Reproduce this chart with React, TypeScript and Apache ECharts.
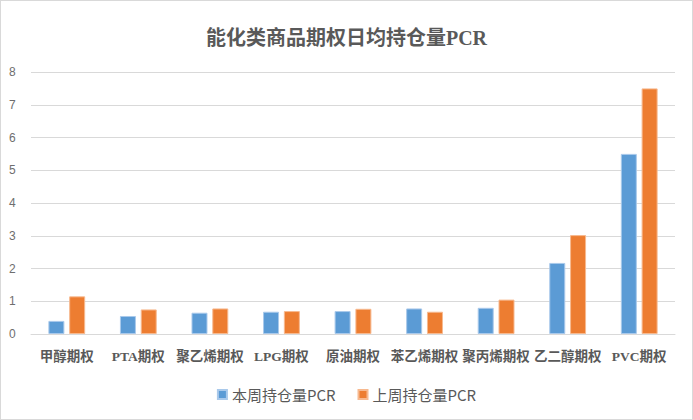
import React, { useEffect, useRef } from "react";
import * as echarts from "echarts";

const categories = ["甲醇期权", "PTA期权", "聚乙烯期权", "LPG期权", "原油期权", "苯乙烯期权", "聚丙烯期权", "乙二醇期权", "PVC期权"];
const thisWeek = [0.4, 0.55, 0.65, 0.68, 0.7, 0.78, 0.8, 2.17, 5.5];
const lastWeek = [1.15, 0.75, 0.78, 0.7, 0.77, 0.68, 1.05, 3.02, 7.5];
const seriesNames = ["本周持仓量PCR", "上周持仓量PCR"];

export default function App() {
  const ref = useRef<HTMLDivElement>(null);
  useEffect(() => {
    const chart = echarts.init(ref.current!, null, { renderer: "svg" });
    chart.setOption({
      animation: false,
      backgroundColor: "#fff",
      title: {
        text: "能化类商品期权日均持仓量PCR",
        left: "center",
        top: 22,
        textStyle: { fontSize: 20, fontWeight: "bold", color: "#595959", fontFamily: "'Liberation Serif', 'Noto Sans CJK SC', serif" },
      },
      legend: {
        bottom: 12,
        left: "center",
        itemWidth: 9,
        itemHeight: 9,
        itemGap: 22,
        icon: "rect",
        textStyle: { fontSize: 15, color: "#595959", fontFamily: "'Noto Sans CJK SC', sans-serif" },
        data: seriesNames,
      },
      grid: { left: 30, right: 17, top: 71, bottom: 85, containLabel: false },
      xAxis: {
        type: "category",
        data: categories,
        axisTick: { show: false },
        axisLine: { lineStyle: { color: "#d9d9d9" } },
        axisLabel: { fontSize: 13.5, fontWeight: "bold", color: "#595959", margin: 16, interval: 0, fontFamily: "'Liberation Serif', 'Noto Sans CJK SC', serif" },
      },
      yAxis: {
        type: "value",
        min: 0,
        max: 8,
        interval: 1,
        axisLine: { show: false },
        axisTick: { show: false },
        splitLine: { lineStyle: { color: "#d9d9d9" } },
        axisLabel: { fontSize: 12, color: "#6e6e6e", margin: 12, align: "left", padding: [0, 0, 0, -10] },
      },
      series: [
        {
          name: seriesNames[0],
          type: "bar",
          data: thisWeek,
          barWidth: 16,
          barGap: "30%",
          itemStyle: { color: "#5b9bd5", borderColor: "#a9c9eb", borderWidth: 1 },
        },
        {
          name: seriesNames[1],
          type: "bar",
          data: lastWeek,
          barWidth: 16,
          itemStyle: { color: "#ed7d31", borderColor: "#f7b98f", borderWidth: 1 },
        },
      ],
    });
    return () => chart.dispose();
  }, []);
  return (
    <div
      ref={ref}
      style={{ position: "fixed", left: 0, top: 0, width: 693, height: 420, boxSizing: "border-box", border: "1px solid #d9d9d9" }}
    />
  );
}
